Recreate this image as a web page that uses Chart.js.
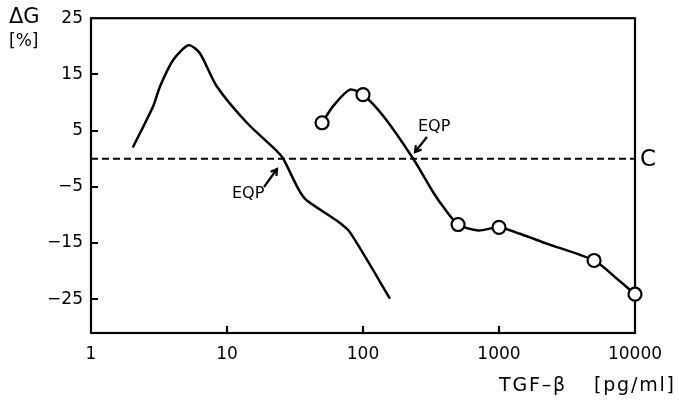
<!DOCTYPE html>
<html>
<head>
<meta charset="utf-8">
<script src="https://cdn.jsdelivr.net/npm/chart.js"></script>
<style>
  html, body { margin: 0; padding: 0; background: #fff; }
  #wrap { width: 679px; height: 401px; }
</style>
</head>
<body>
<div id="wrap"><canvas id="chart" width="679" height="401"></canvas></div>
<script>
// data
const curveA_x = [2.03, 2.87, 3.22, 4.03, 5.2, 6.3, 8.4, 14, 23.2, 25.9, 33.5, 38.5, 64, 80, 158];
const curveA_y = [2.0, 9.4, 12.9, 17.6, 20.2, 18.8, 12.9, 6.4, 1.4, 0, -5.4, -7.4, -11, -13.05, -24.9];

const curveB_x = [50, 60.5, 80, 100, 141, 234, 329, 390, 500, 705, 1000, 1427, 2240, 5000, 7330, 10000];
const curveB_y = [6.4, 9.4, 12.3, 11.4, 7.6, 0, -6.0, -8.6, -11.7, -12.75, -12.2, -13.35, -15.1, -18.1, -21.3, -24.1];

const markers_x = [50, 100, 500, 1000, 5000, 10000];
const markers_y = [6.4, 11.4, -11.7, -12.2, -18.1, -24.1];

const controlLevel = 0;
const xTicks = [1, 10, 100, 1000, 10000];
const yTicks = [25, 15, 5, -5, -15, -25];

const FONT = '"DejaVu Sans", sans-serif';

function toPoints(xs, ys) {
    return xs.map((x, i) => ({ x: x, y: ys[i] }));
}

// frame, inward tick marks and the text annotations
const decorations = {
    id: 'decorations',
    beforeDatasetsDraw(chart) {
        const ctx = chart.ctx;
        const a = chart.chartArea;
        const xs = chart.scales.x, ys = chart.scales.y;
        ctx.save();
        ctx.strokeStyle = '#000';
        ctx.lineWidth = 2.2;
        ctx.strokeRect(a.left, a.top, a.right - a.left, a.bottom - a.top);
        ctx.beginPath();
        xTicks.slice(1, -1).forEach(v => {
            const px = Math.round(xs.getPixelForValue(v));
            ctx.moveTo(px, a.bottom);
            ctx.lineTo(px, a.bottom - 7);
        });
        yTicks.slice(1).forEach(v => {
            const py = Math.round(ys.getPixelForValue(v));
            ctx.moveTo(a.left, py);
            ctx.lineTo(a.left + 7, py);
        });
        ctx.stroke();
        ctx.restore();
    },
    afterDraw(chart) {
        const ctx = chart.ctx;
        const ys = chart.scales.y;
        ctx.save();
        ctx.fillStyle = '#000';
        ctx.textBaseline = 'middle';
        ctx.textAlign = 'left';

        ctx.font = '21px ' + FONT;
        ctx.fillText('\u0394G', 9, 18);
        ctx.font = '17px ' + FONT;
        ctx.fillText('[%]', 9, 42);

        ctx.letterSpacing = '1.8px';
        ctx.font = '19px ' + FONT;
        ctx.fillText('TGF\u2013\u03b2', 499, 386);
        ctx.fillText('[pg/ml]', 594, 386);
        ctx.letterSpacing = '0px';

        ctx.font = '23px ' + FONT;
        ctx.fillText('C', 640, ys.getPixelForValue(controlLevel) + 1);

        ctx.font = '16px ' + FONT;
        ctx.fillText('EQP', 232, 194);
        ctx.fillText('EQP', 418, 127);

        drawArrow(ctx, 264, 187, 277, 169);
        drawArrow(ctx, 427, 137, 415, 152);
        ctx.restore();
    }
};

function drawArrow(ctx, x1, y1, x2, y2) {
    const ang = Math.atan2(y2 - y1, x2 - x1);
    const h = 7;
    ctx.strokeStyle = '#000';
    ctx.lineWidth = 2.2;
    ctx.beginPath();
    ctx.moveTo(x1, y1);
    ctx.lineTo(x2, y2);
    ctx.moveTo(x2 - h * Math.cos(ang - 0.55), y2 - h * Math.sin(ang - 0.55));
    ctx.lineTo(x2, y2);
    ctx.lineTo(x2 - h * Math.cos(ang + 0.55), y2 - h * Math.sin(ang + 0.55));
    ctx.stroke();
}

new Chart(document.getElementById('chart'), {
    type: 'line',
    data: {
        datasets: [
            {
                data: toPoints(markers_x, markers_y),
                showLine: false,
                pointRadius: 6.5,
                pointBorderWidth: 2.2,
                pointBackgroundColor: '#fff',
                pointBorderColor: '#000',
                clip: false,
                order: 0
            },
            {
                data: toPoints(curveA_x, curveA_y),
                borderColor: '#000',
                borderWidth: 2.5,
                pointRadius: 0,
                tension: 0.25,
                order: 1
            },
            {
                data: toPoints(curveB_x, curveB_y),
                borderColor: '#000',
                borderWidth: 2.5,
                pointRadius: 0,
                tension: 0.25,
                order: 1
            },
            {
                data: toPoints([xTicks[0], xTicks[xTicks.length - 1]], [controlLevel, controlLevel]),
                borderColor: '#000',
                borderWidth: 1.8,
                borderDash: [7, 4],
                pointRadius: 0,
                order: 2
            }
        ]
    },
    options: {
        responsive: false,
        animation: false,
        layout: { padding: { top: 15, right: 44, left: 0, bottom: 0 } },
        plugins: {
            legend: { display: false },
            tooltip: { enabled: false }
        },
        scales: {
            x: {
                type: 'logarithmic',
                min: 1,
                max: 10000,
                afterBuildTicks: s => { s.ticks = xTicks.map(v => ({ value: v })); },
                afterFit: s => { s.height = 401 - 333; },
                grid: { display: false, drawTicks: false },
                border: { display: false },
                ticks: {
                    color: '#000',
                    font: { family: FONT, size: 17 },
                    padding: 11,
                    maxRotation: 0,
                    autoSkip: false,
                    callback: v => String(v)
                }
            },
            y: {
                min: -31,
                max: 25,
                afterBuildTicks: s => { s.ticks = yTicks.map(v => ({ value: v })); },
                afterFit: s => { s.width = 91; },
                grid: { display: false, drawTicks: false },
                border: { display: false },
                ticks: {
                    color: '#000',
                    font: { family: FONT, size: 17 },
                    padding: 8,
                    callback: v => String(v).replace('-', '\u2212')
                }
            }
        }
    },
    plugins: [decorations]
});
</script>
</body>
</html>
